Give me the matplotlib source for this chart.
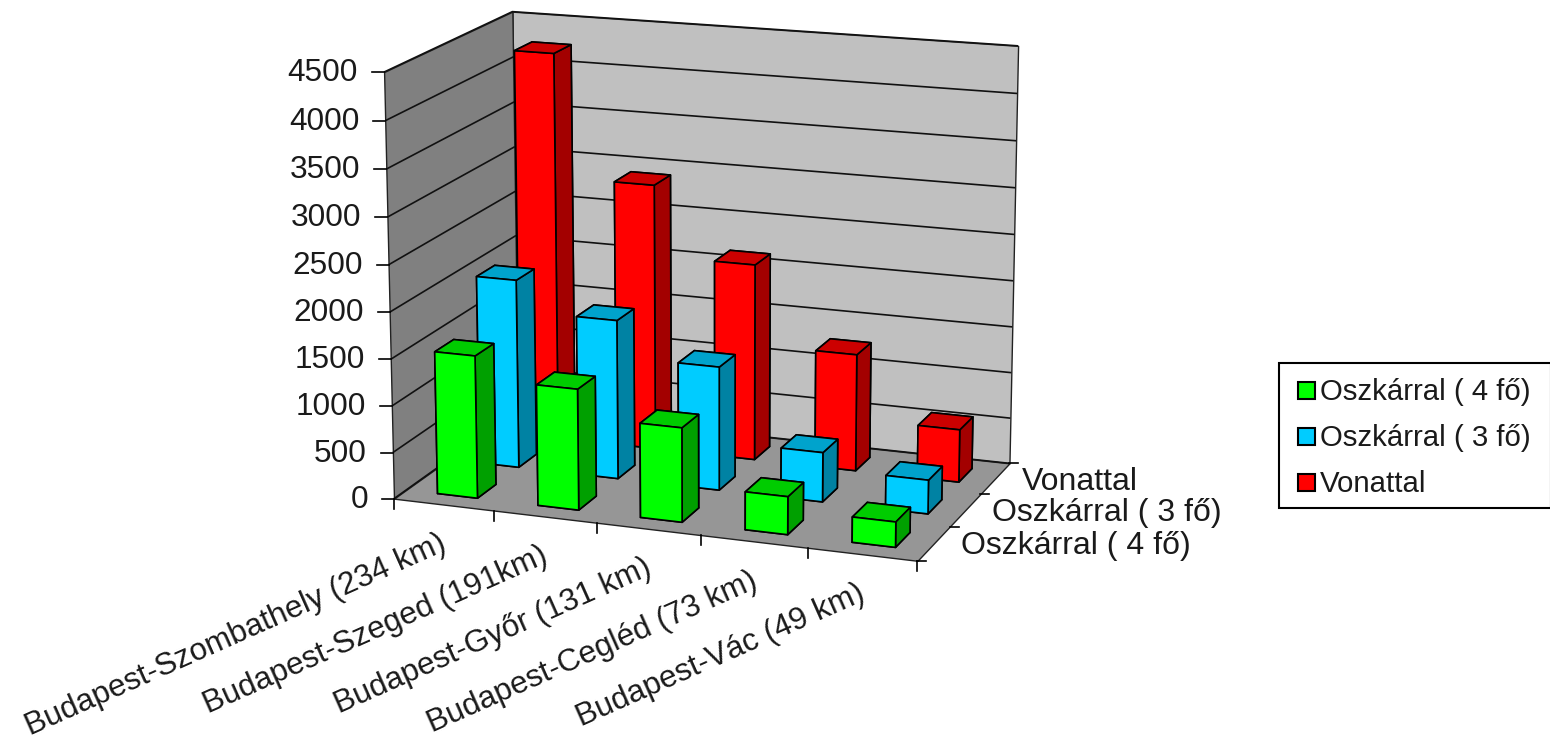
import numpy as np
import matplotlib
matplotlib.use("Agg")
import matplotlib.pyplot as plt
from matplotlib.patches import Rectangle
from mpl_toolkits.mplot3d.art3d import Poly3DCollection, Line3DCollection

plt.rcParams['font.family'] = ['Liberation Sans', 'DejaVu Sans']

routes = ["Budapest-Szombathely (234 km)", "Budapest-Szeged (191km)", "Budapest-Győr (131 km)",
          "Budapest-Cegléd (73 km)", "Budapest-Vác (49 km)"]
series = ["Oszkárral ( 4 fő)", "Oszkárral ( 3 fő)", "Vonattal"]
oszkar_4 = [1530, 1290, 1000, 400, 265]
oszkar_3 = [2050, 1720, 1330, 530, 360]
vonattal = [4250, 2910, 2140, 1270, 570]
z_ticks = [0, 500, 1000, 1500, 2000, 2500, 3000, 3500, 4000, 4500]

# front, top, side colours of each series
colours = [("#00FF00", "#00CC00", "#00A000"),
           ("#00CCFF", "#00A3CC", "#0082A3"),
           ("#FF0000", "#CC0000", "#A30000")]

W, H = 1550, 743
n_x, n_y, z_max = len(routes), len(series), z_ticks[-1]

fig = plt.figure(figsize=(W / 100, H / 100), dpi=100, facecolor="white")
ax = fig.add_axes([0, (H - W) / 2 / H, 1, W / H], projection="3d", computed_zorder=False)
ax.set_axis_off()
ax.apply_aspect()

# where the corners of the chart box sit in the picture, used to fit the view
box_corners = [(0, 0, 0), (n_x, 0, 0), (n_x, n_y, 0), (0, n_y, 0),
               (0, 0, z_max), (0, n_y, z_max), (n_x, n_y, z_max)]
box_pixels = [(395, 499), (917, 561), (1010, 463), (517, 410),
              (383.5, 71.5), (513, 12), (1018, 46)]


def fit_view(corners, pixels):
    # least squares perspective matrix from data coordinates to picture pixels
    rows, rhs = [], []
    for (x, y, z), (u, v) in zip(corners, pixels):
        rows.append([x, y, z, 1, 0, 0, 0, 0, -u * x, -u * y, -u * z])
        rows.append([0, 0, 0, 0, x, y, z, 1, -v * x, -v * y, -v * z])
        rhs += [u, v]
    p = np.linalg.lstsq(np.array(rows, float), np.array(rhs, float), rcond=None)[0]
    return np.array([p[:4], p[4:8], p[8:11].tolist() + [1.0]])


P = fit_view(box_corners, box_pixels)


def to_pixel(x, y, z):
    u, v, w = P @ np.array([x, y, z, 1.0])
    return u / w, v / w


# same fit again but in the 2D coordinates the 3D axes draws in, plus a depth row
axes_pixels = ax.transData.inverted().transform([(u, H - v) for u, v in box_pixels])
P2 = fit_view(box_corners, axes_pixels)
depth = np.array([-0.3 / n_x, 1.0 / n_y, -0.3 / z_max, 0.0]) * P2[2, 3]
M = np.array([P2[0], P2[1], depth, P2[2]])
ax.get_proj = lambda: M

# walls and floor
floor = [(0, 0, 0), (n_x, 0, 0), (n_x, n_y, 0), (0, n_y, 0)]
back = [(0, n_y, 0), (n_x, n_y, 0), (n_x, n_y, z_max), (0, n_y, z_max)]
side = [(0, 0, 0), (0, n_y, 0), (0, n_y, z_max), (0, 0, z_max)]
for verts, col in [(back, "#C0C0C0"), (side, "#808080"), (floor, "#969696")]:
    ax.add_collection3d(Poly3DCollection([verts], facecolor=col, edgecolor="#222222",
                                         linewidth=1.0, zorder=0.5))

# gridlines
grid = [[(0, 0, z), (0, n_y, z), (n_x, n_y, z)] for z in z_ticks]
ax.add_collection3d(Line3DCollection(grid, colors="#111111", linewidths=1.2, zorder=2))

# bars, back row first and right to left inside a row
bar_w, bar_d = 0.40, 0.44
all_values = [oszkar_4, oszkar_3, vonattal]
zo = 3
for j in range(n_y - 1, -1, -1):
    front, top, right = colours[j]
    # bar3d face order: bottom, top, front, back, left, right
    face_cols = [front, top, front, front, right, right]
    for i in range(n_x - 1, -1, -1):
        b = ax.bar3d(i + 0.515 - bar_w / 2, j + 0.5 - bar_d / 2, 0, bar_w, bar_d, all_values[j][i],
                     color=face_cols, shade=False, edgecolor="black", linewidth=1.2)
        b.set_zorder(zo)
        zo += 1

# flat layer in picture pixels for ticks, labels and legend
ov = fig.add_axes([0, 0, 1, 1], facecolor="none", zorder=10)
ov.set_xlim(0, W)
ov.set_ylim(H, 0)
ov.set_axis_off()

for z in z_ticks:
    u, v = to_pixel(0, 0, z)
    ov.plot([u - 12, u], [v, v], color="black", lw=1.2)
    ov.text(u - 26, v + 1, f"{z}", ha="right", va="center", fontsize=22.7, color="#1a1a1a")

for i in range(n_x + 1):
    u, v = to_pixel(i, 0, 0)
    ov.plot([u, u], [v, v + 10], color="black", lw=1.2)

for i, name in enumerate(routes):
    u, v = to_pixel(i + 0.5, 0, 0)
    ov.text(u + 1, v + 38, name, rotation=24, rotation_mode="anchor", ha="right", va="center",
            fontsize=22.6, color="#1a1a1a")

for j in range(n_y + 1):
    u, v = to_pixel(n_x, j, 0)
    ov.plot([u, u + 9], [v, v], color="black", lw=1.2)

for j, name in enumerate(series):
    u, v = to_pixel(n_x, j + 0.5, 0)
    ov.text(u + 27, v + 3, name, ha="left", va="center", fontsize=23, color="#1a1a1a")

# legend
ov.add_patch(Rectangle((1279, 363), 272, 145, facecolor="white", edgecolor="black", lw=1.5))
for name, cols, y in zip(series, colours, [390, 436, 482]):
    ov.add_patch(Rectangle((1298, y - 8), 17, 17, facecolor=cols[0], edgecolor="black", lw=1.5))
    ov.text(1320, y + 1.5, name, ha="left", va="center", fontsize=21.2, color="#1a1a1a")

fig.savefig("out.png", dpi=100)
